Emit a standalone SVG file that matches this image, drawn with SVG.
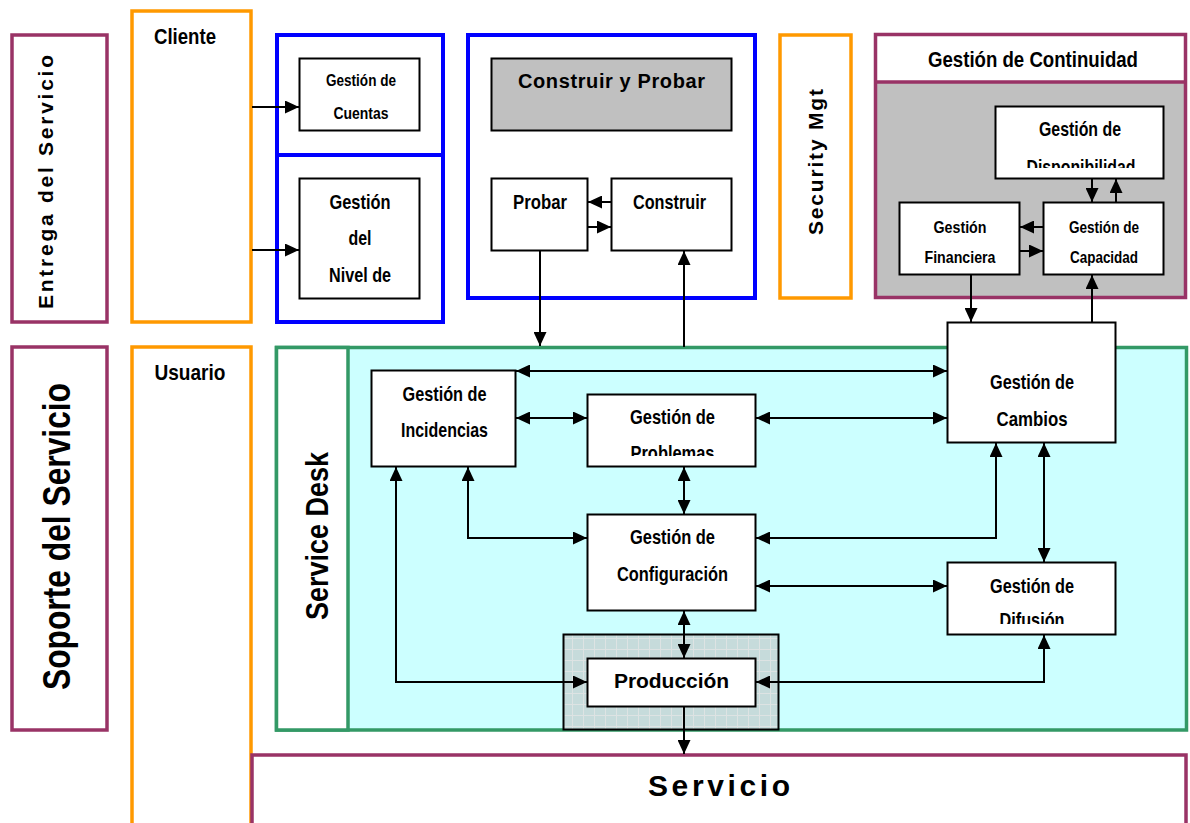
<svg xmlns="http://www.w3.org/2000/svg" width="1190" height="823" viewBox="0 0 1190 823">
  <style>
    .t { font-family: "Liberation Sans", Arial, Helvetica, sans-serif; font-weight: bold; fill: #000; text-anchor: middle; }
    .node { fill: #fff; stroke: #000; stroke-width: 2; }
    .purple { fill: #fff; stroke: #993366; stroke-width: 3.5; }
    .orange { fill: #fff; stroke: #FF9900; stroke-width: 3.5; }
    .blue { fill: #fff; stroke: #0000FF; stroke-width: 4; }
    .green { stroke: #339966; stroke-width: 3.5; }
    .cn path { fill: none; stroke: #000; stroke-width: 2; }
  </style>
  <defs>
    <marker id="ah" viewBox="0 0 14 13" refX="14" refY="6.5" markerWidth="14" markerHeight="13" markerUnits="userSpaceOnUse" orient="auto-start-reverse">
      <path d="M0,0 L14,6.5 L0,13 z" fill="#000"/>
    </marker>
    <pattern id="grid" width="11" height="11" patternUnits="userSpaceOnUse">
      <rect width="11" height="11" fill="#c6dbdb"/>
      <path d="M0,0.5 H11 M0.5,0 V11" stroke="#dde3e3" stroke-width="1"/>
    </pattern>
    <clipPath id="clipDisp"><rect x="996" y="107" width="167" height="61"/></clipPath>
    <clipPath id="clipProb"><rect x="588" y="395" width="167" height="61"/></clipPath>
    <clipPath id="clipDif"><rect x="948" y="563" width="167" height="61"/></clipPath>
  </defs>

  <rect width="1190" height="823" fill="#fff"/>

  <!-- Service delivery column -->
  <g id="entrega">
    <rect class="purple" x="12" y="35" width="95" height="287"/>
    <text class="t" font-size="21" textLength="254" transform="translate(53,182) rotate(-90)">Entrega del Servicio</text>
  </g>
  <g id="cliente">
    <rect class="orange" x="132" y="11" width="119" height="311"/>
    <text class="t" x="185" y="44" font-size="22" textLength="62" lengthAdjust="spacingAndGlyphs">Cliente</text>
  </g>
  <g id="grupo-cuentas">
    <rect class="blue" x="277" y="35" width="166" height="120"/>
  </g>
  <g id="grupo-nivel">
    <rect class="blue" x="277" y="155" width="166" height="167"/>
  </g>
  <g id="cuentas">
    <rect class="node" x="299.5" y="58.5" width="120" height="72"/>
    <text class="t" x="361" y="86" font-size="17" textLength="70" lengthAdjust="spacingAndGlyphs">Gestión de</text>
    <text class="t" x="361" y="119" font-size="17" textLength="55" lengthAdjust="spacingAndGlyphs">Cuentas</text>
  </g>
  <g id="nivel">
    <rect class="node" x="299.5" y="178.5" width="120" height="120"/>
    <text class="t" x="360" y="209" font-size="21" textLength="61" lengthAdjust="spacingAndGlyphs">Gestión</text>
    <text class="t" x="360" y="245" font-size="21" textLength="23" lengthAdjust="spacingAndGlyphs">del</text>
    <text class="t" x="360" y="282" font-size="21" textLength="62" lengthAdjust="spacingAndGlyphs">Nivel de</text>
  </g>

  <!-- Build and test -->
  <g id="construir-probar">
    <rect class="blue" x="468" y="35" width="287" height="263"/>
    <rect x="491.5" y="58.5" width="240" height="72" fill="#C0C0C0" stroke="#000" stroke-width="2"/>
    <text class="t" x="611.5" y="88" font-size="20" textLength="187">Construir y Probar</text>
  </g>
  <g id="probar">
    <rect class="node" x="491.5" y="178.5" width="96" height="72"/>
    <text class="t" x="540" y="209" font-size="21" textLength="54" lengthAdjust="spacingAndGlyphs">Probar</text>
  </g>
  <g id="construir">
    <rect class="node" x="611.5" y="178.5" width="120" height="72"/>
    <text class="t" x="669.5" y="209" font-size="21" textLength="73" lengthAdjust="spacingAndGlyphs">Construir</text>
  </g>

  <g id="security">
    <rect class="orange" x="780" y="35" width="71" height="263"/>
    <text class="t" font-size="21" textLength="146" transform="translate(823,162) rotate(-90)">Security Mgt</text>
  </g>

  <!-- Continuity management -->
  <g id="continuidad">
    <rect x="875.5" y="82" width="310" height="215.5" fill="#C0C0C0"/>
    <rect x="875.5" y="34.5" width="310" height="263" fill="none" stroke="#993366" stroke-width="3.5"/>
    <line x1="875.5" y1="82" x2="1185.5" y2="82" stroke="#993366" stroke-width="3.5"/>
    <text class="t" x="1033" y="67" font-size="22" textLength="210" lengthAdjust="spacingAndGlyphs">Gestión de Continuidad</text>
  </g>
  <g id="disponibilidad">
    <rect class="node" x="995.5" y="106.5" width="168" height="72"/>
    <text class="t" x="1080" y="136" font-size="21" textLength="82" lengthAdjust="spacingAndGlyphs">Gestión de</text>
    <text class="t" x="1081" y="174" font-size="21" textLength="109" lengthAdjust="spacingAndGlyphs" clip-path="url(#clipDisp)">Disponibilidad</text>
  </g>
  <g id="financiera">
    <rect class="node" x="899.5" y="202.5" width="120" height="72"/>
    <text class="t" x="960" y="233" font-size="17" textLength="53" lengthAdjust="spacingAndGlyphs">Gestión</text>
    <text class="t" x="960" y="263" font-size="17" textLength="71" lengthAdjust="spacingAndGlyphs">Financiera</text>
  </g>
  <g id="capacidad">
    <rect class="node" x="1043.5" y="202.5" width="120" height="72"/>
    <text class="t" x="1104" y="233" font-size="17" textLength="70" lengthAdjust="spacingAndGlyphs">Gestión de</text>
    <text class="t" x="1104" y="263" font-size="17" textLength="68" lengthAdjust="spacingAndGlyphs">Capacidad</text>
  </g>

  <!-- Service support column -->
  <g id="soporte">
    <rect class="purple" x="12" y="347" width="95" height="383"/>
    <text class="t" font-size="39" textLength="307" lengthAdjust="spacingAndGlyphs" transform="translate(70,536.5) rotate(-90)">Soporte del Servicio</text>
  </g>
  <g id="usuario">
    <rect class="orange" x="132" y="347" width="119" height="500"/>
    <text class="t" x="190" y="380" font-size="22" textLength="71" lengthAdjust="spacingAndGlyphs">Usuario</text>
  </g>
  <g id="service-desk">
    <rect x="276.5" y="347.5" width="910" height="382.5" fill="#CCFFFF" class="green"/>
    <rect x="276.5" y="347.5" width="71.5" height="382.5" fill="#fff" class="green"/>
    <text class="t" font-size="31" textLength="168" lengthAdjust="spacingAndGlyphs" transform="translate(328,536) rotate(-90)">Service Desk</text>
  </g>
  <g id="servicio">
    <rect class="purple" x="252" y="755" width="934" height="100"/>
    <text class="t" x="719" y="796" font-size="30" textLength="142">Servicio</text>
  </g>

  <g id="incidencias">
    <rect class="node" x="371.5" y="370.5" width="144" height="96"/>
    <text class="t" x="444.5" y="401" font-size="21" textLength="84" lengthAdjust="spacingAndGlyphs">Gestión de</text>
    <text class="t" x="444.5" y="437" font-size="21" textLength="87" lengthAdjust="spacingAndGlyphs">Incidencias</text>
  </g>
  <g id="problemas">
    <rect class="node" x="587.5" y="394.5" width="168" height="72"/>
    <text class="t" x="672.5" y="424" font-size="21" textLength="85" lengthAdjust="spacingAndGlyphs">Gestión de</text>
    <text class="t" x="672.5" y="460" font-size="21" textLength="84" lengthAdjust="spacingAndGlyphs" clip-path="url(#clipProb)">Problemas</text>
  </g>
  <g id="configuracion">
    <rect class="node" x="587.5" y="514.5" width="168" height="96"/>
    <text class="t" x="672.5" y="544" font-size="21" textLength="85" lengthAdjust="spacingAndGlyphs">Gestión de</text>
    <text class="t" x="672.5" y="581" font-size="21" textLength="111" lengthAdjust="spacingAndGlyphs">Configuración</text>
  </g>
  <g id="cambios">
    <rect class="node" x="947.5" y="322.5" width="168" height="120"/>
    <text class="t" x="1032" y="389" font-size="21" textLength="84" lengthAdjust="spacingAndGlyphs">Gestión de</text>
    <text class="t" x="1032" y="426" font-size="21" textLength="71" lengthAdjust="spacingAndGlyphs">Cambios</text>
  </g>
  <g id="difusion">
    <rect class="node" x="947.5" y="562.5" width="168" height="72"/>
    <text class="t" x="1032" y="593" font-size="21" textLength="84" lengthAdjust="spacingAndGlyphs">Gestión de</text>
    <text class="t" x="1032" y="627" font-size="21" textLength="65" lengthAdjust="spacingAndGlyphs" clip-path="url(#clipDif)">Difusión</text>
  </g>
  <g id="produccion">
    <rect x="563.5" y="634.5" width="215" height="95" fill="url(#grid)" stroke="#000" stroke-width="2"/>
    <rect class="node" x="587.5" y="658.5" width="168" height="48"/>
    <text class="t" x="671.5" y="688" font-size="21" textLength="115">Producción</text>
  </g>

  <!-- Connectors -->
  <g id="connectors" class="cn">
    <path d="M252,107 H299" marker-end="url(#ah)"/>
    <path d="M252,250 H299" marker-end="url(#ah)"/>
    <path d="M611,202 H588" marker-end="url(#ah)"/>
    <path d="M588,227 H611" marker-end="url(#ah)"/>
    <path d="M540,250 V346" marker-end="url(#ah)"/>
    <path d="M684,347 V251" marker-end="url(#ah)"/>
    <path d="M1092,178 V202" marker-end="url(#ah)"/>
    <path d="M1116,202 V179" marker-end="url(#ah)"/>
    <path d="M1043,227 H1020" marker-end="url(#ah)"/>
    <path d="M1019,251 H1043" marker-end="url(#ah)"/>
    <path d="M971,275 V322" marker-end="url(#ah)"/>
    <path d="M1092,322 V275" marker-end="url(#ah)"/>
    <path d="M516,371 H947" marker-start="url(#ah)" marker-end="url(#ah)"/>
    <path d="M516,418 H587" marker-start="url(#ah)" marker-end="url(#ah)"/>
    <path d="M756,418 H947" marker-start="url(#ah)" marker-end="url(#ah)"/>
    <path d="M684,467 V514" marker-start="url(#ah)" marker-end="url(#ah)"/>
    <path d="M468,467 V538 H587" marker-start="url(#ah)" marker-end="url(#ah)"/>
    <path d="M996,443 V538 H756" marker-start="url(#ah)" marker-end="url(#ah)"/>
    <path d="M756,586 H947" marker-start="url(#ah)" marker-end="url(#ah)"/>
    <path d="M1044,443 V562" marker-start="url(#ah)" marker-end="url(#ah)"/>
    <path d="M684,611 V658" marker-start="url(#ah)" marker-end="url(#ah)"/>
    <path d="M396,467 V682 H587" marker-start="url(#ah)" marker-end="url(#ah)"/>
    <path d="M756,682 H1044 V635" marker-start="url(#ah)" marker-end="url(#ah)"/>
    <path d="M684,707 V754" marker-end="url(#ah)"/>
  </g>
</svg>
